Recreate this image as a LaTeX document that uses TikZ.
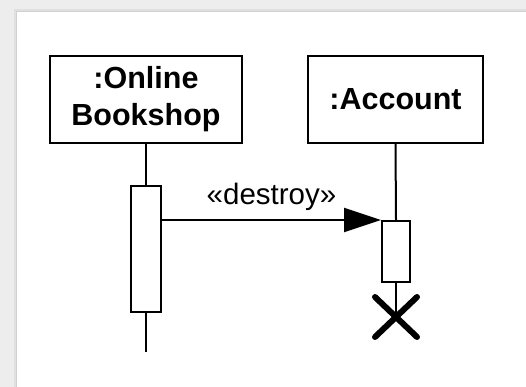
\documentclass[tikz,border=0pt]{standalone}
\usepackage{fontspec}
\setmainfont{Liberation Sans}
\usetikzlibrary{arrows.meta,calc}
\begin{document}
\begin{tikzpicture}[x=1pt,y=-1pt,
  objbox/.style={draw=black,line width=2pt,fill=white,minimum width=192pt,minimum height=87pt,align=center,font=\fontsize{30.5}{37}\selectfont\bfseries,inner sep=0pt},
  actbar/.style={draw=black,line width=2pt,fill=white,inner sep=0pt},
  lifeline/.style={line width=2pt},
  msg/.style={line width=2pt,-{Triangle[length=37pt,width=24pt]}},
  killmark/.style={line width=6pt,line cap=round}]
  % page background with panel shadow
  \fill[black!7] (0,0) rectangle (526,387);
  \fill[black!12] (14,9) rectangle (526,387);
  \fill[black!18] (16,11) rectangle (526,387);
  \fill[white] (17,12) rectangle (526,387);
  \useasboundingbox (0,0) rectangle (526,387);

  % participants
  \node[objbox] (shop) at (146,99.5) {:Online\\Bookshop};
  \node[objbox,minimum width=175pt] (acct) at (395.5,99.5) {:Account};

  % activation bars
  \node[actbar,minimum width=30pt,minimum height=126pt] (shopact) at (146,249) {};
  \node[actbar,minimum width=28pt,minimum height=61pt] (acctact) at (396,251.5) {};

  % lifeline ends
  \coordinate (shopend) at (146,352);
  \coordinate (kill) at (396,317);

  \draw[lifeline] (shop.south) -- (shopact.north);
  \draw[lifeline] (shopact.south) -- (shopend);
  \draw[lifeline] (acct.south) -- (acctact.north);
  \draw[lifeline] (acctact.south) -- (kill);

  % destroy message
  \draw[msg] (shopact.east |- acctact.north) -- (acctact.north west)
    node[midway,above=5pt,font=\fontsize{29.5}{35}\selectfont] (lbl) {«destroy»};

  % destruction mark
  \draw[killmark] ($(kill)+(-21,-20)$) -- ($(kill)+(21,20)$);
  \draw[killmark] ($(kill)+(21,-20)$) -- ($(kill)+(-21,20)$);
\end{tikzpicture}
\end{document}
